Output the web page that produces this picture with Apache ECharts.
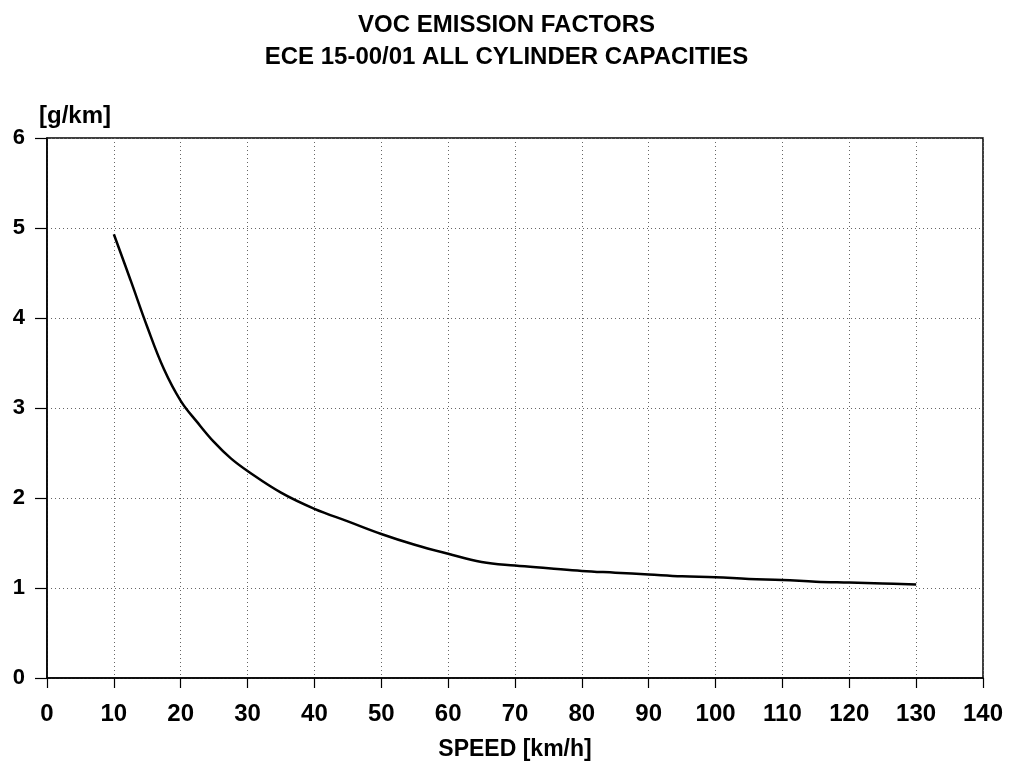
<!DOCTYPE html>
<html><head><meta charset="utf-8">
<script src="https://cdn.jsdelivr.net/npm/echarts@6/dist/echarts.min.js"></script>
<style>html,body{margin:0;padding:0;background:#fff}#c{width:1013px;height:762px}</style>
</head><body><div id="c"></div>
<script>
const speeds = [10, 12.5, 15, 17.5, 20, 22.5, 25, 27.5, 30, 35, 40, 45, 50, 55, 60, 65, 70, 75, 80, 85, 90, 95, 100, 105, 110, 115, 120, 125, 130];
const voc = [4.93, 4.42, 3.90, 3.43, 3.08, 2.84, 2.62, 2.44, 2.30, 2.06, 1.88, 1.74, 1.60, 1.48, 1.38, 1.29, 1.25, 1.22, 1.19, 1.17, 1.15, 1.13, 1.12, 1.10, 1.09, 1.07, 1.06, 1.05, 1.04];
const titleLines = ['VOC EMISSION FACTORS', 'ECE 15-00/01 ALL CYLINDER CAPACITIES'];
const xName = 'SPEED [km/h]';
const yName = '[g/km]';

const font = '"Liberation Sans", Arial, sans-serif';
const chart = echarts.init(document.getElementById('c'));
chart.setOption({
  animation: false,
  backgroundColor: '#fff',
  title: {
    text: titleLines.join('\n'),
    left: 'center', top: 4,
    textStyle: { fontFamily: font, fontWeight: 'bold', fontSize: 24, lineHeight: 32, color: '#000' }
  },
  grid: { left: 47, right: 30, top: 138, bottom: 84, show: true, borderColor: '#000', borderWidth: 1.5, containLabel: false, outerBoundsMode: 'none' },
  xAxis: {
    type: 'value', min: 0, max: 140, interval: 10,
    name: xName, nameLocation: 'middle', nameGap: 60,
    nameTextStyle: { fontFamily: font, fontWeight: 'bold', fontSize: 23, color: '#000' },
    axisLine: { show: true, lineStyle: { color: '#000', width: 1.5 } },
    axisTick: { show: true, length: 10, lineStyle: { color: '#000', width: 1.2 } },
    axisLabel: { fontFamily: font, fontWeight: 'bold', fontSize: 24, color: '#000', margin: 24 },
    splitLine: { show: true, lineStyle: { color: '#666', type: [1, 3], width: 1 } }
  },
  yAxis: {
    type: 'value', min: 0, max: 6, interval: 1,
    name: yName, nameLocation: 'end', nameGap: 10,
    nameTextStyle: { fontFamily: font, fontWeight: 'bold', fontSize: 24, color: '#000', align: 'left', padding: [0, 0, 0, -8] },
    axisLine: { show: true, lineStyle: { color: '#000', width: 1.5 } },
    axisTick: { show: true, length: 12, lineStyle: { color: '#000', width: 1.2 } },
    axisLabel: { fontFamily: font, fontWeight: 'bold', fontSize: 22, color: '#000', margin: 22 },
    splitLine: { show: true, lineStyle: { color: '#666', type: [1, 3], width: 1 } }
  },
  series: [{
    type: 'line',
    data: speeds.map((s, i) => [s, voc[i]]),
    smooth: 0.4,
    showSymbol: false,
    lineStyle: { color: '#000', width: 2.5 }
  }]
});
</script></body></html>
